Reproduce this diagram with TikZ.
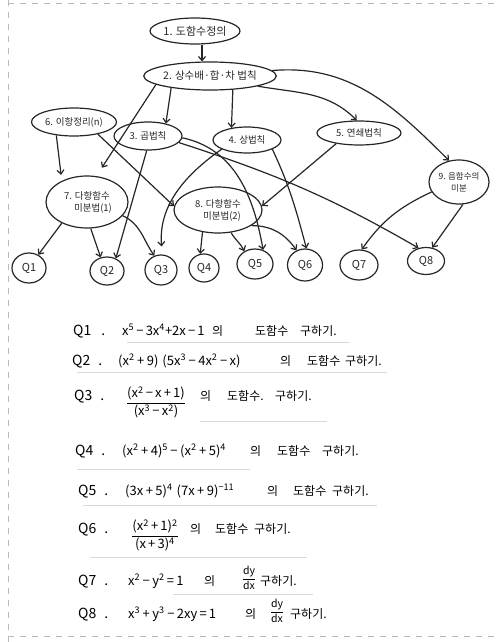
\documentclass[tikz,border=0pt]{standalone}
\usepackage{amsmath}
\usepackage{fontspec}
\setmainfont{Noto Sans CJK KR}
\usetikzlibrary{shapes.geometric,arrows.meta}
% exponents and spaced operators in the written formulas
\newcommand\pw[1]{\textsuperscript{#1}}
\newcommand\sop[1]{\hspace{2.5pt}#1\hspace{2.5pt}}
\begin{document}
\begin{tikzpicture}[x=1pt,y=1pt,
  pen/.style={line width=1.2pt, black!85},
  bub/.style={ellipse, draw, pen, inner sep=0pt, align=center,
    font=\fontsize{9.5}{12}\selectfont},
  qn/.style={ellipse, draw, pen, inner sep=0pt, font=\fontsize{11}{12}\selectfont},
  arr/.style={pen, -{Straight Barb[length=4pt,width=7pt]}},
  qlab/.style={anchor=base west, inner sep=0pt, font=\fontsize{14}{15}\selectfont},
  qexp/.style={anchor=base west, inner sep=0pt, font=\fontsize{13}{14}\selectfont},
  qfr/.style={anchor=base, inner sep=0pt, font=\fontsize{13}{14}\selectfont},
  qdd/.style={anchor=base, inner sep=0pt, font=\fontsize{10.5}{12}\selectfont},
  qkr/.style={anchor=base west, inner sep=0pt, font=\fontsize{12}{13}\selectfont},
  rule/.style={gray!30, line width=0.6pt},
  edge/.style={gray!55, line width=1pt, dash pattern=on 6pt off 6pt}
]
\useasboundingbox (0,0) rectangle (496,-642);

% page edges
\draw[edge] (8,0) -- (8,-642);
\draw[edge] (8,-4) -- (496,-4);
\draw[edge] (8,-636) -- (496,-636);

% topic bubbles
\node[bub, minimum width=90pt, minimum height=26pt, font=\fontsize{11}{12}\selectfont] (n1) at (195,-31) {1. 도함수정의};
\node[bub, minimum width=130pt, minimum height=28pt, font=\fontsize{10.5}{12}\selectfont] (n2) at (210,-76) {2. 상수배·합·차 법칙};
\node[bub, minimum width=85pt, minimum height=28pt] (n6) at (74,-122) {6. 이항정리(n)};
\node[bub, minimum width=68pt, minimum height=28pt] (n3) at (148,-136) {3. 곱법칙};
\node[bub, minimum width=68pt, minimum height=26pt] (n4) at (247,-140) {4. 상법칙};
\node[bub, minimum width=84pt, minimum height=24pt] (n5) at (359,-133) {5. 연쇄법칙};
\node[bub, minimum width=60pt, minimum height=44pt, font=\fontsize{8.5}{12}\selectfont] (n9) at (459,-182) {9. 음함수의\\미분};
\node[bub, minimum width=82pt, minimum height=52pt] (n7) at (87,-202) {7. 다항함수\\\hspace*{12pt}미분법(1)};
\node[bub, minimum width=88pt, minimum height=46pt] (n8) at (218,-210) {8. 다항함수\\\hspace*{8pt}미분법(2)};

% question bubbles
\node[qn, minimum width=34pt, minimum height=30pt] (q1) at (29,-268) {Q1};
\node[qn, minimum width=34pt, minimum height=28pt] (q2) at (107,-271) {Q2};
\node[qn, minimum width=32pt, minimum height=30pt] (q3) at (161,-270) {Q3};
\node[qn, minimum width=30pt, minimum height=28pt] (q4) at (204,-268) {Q4};
\node[qn, minimum width=36pt, minimum height=30pt] (q5) at (255,-264) {Q5};
\node[qn, minimum width=35pt, minimum height=32pt] (q6) at (305,-265) {Q6};
\node[qn, minimum width=38pt, minimum height=30pt] (q7) at (359,-265) {Q7};
\node[qn, minimum width=37pt, minimum height=27pt] (q8) at (426,-261) {Q8};

% links between topics
\draw[arr] ([xshift=7pt]n1.south) -- ([xshift=-8pt]n2.north);
\draw[arr, shorten >=10pt] (n2.189) -- (n7.70);
\draw[arr] (n2.197) -- (n3.35);
\draw[arr] (n2.-31) -- (n4.142);
\draw[arr] (n2.-12) to[out=-10, in=135] (n5.100);
\draw[arr] (n2.5) to[out=5, in=135] (n9.115);
\draw[arr, shorten >=6pt] (n6.217) -- (n7.140);
\draw[arr] (n6.-27) -- (n8.175);
\draw[arr] (n5.205) -- (n8.5);

% links to questions
\draw[arr] (n3.265) -- (q2.55);
\draw[arr] (n3.-3) to[out=-12, in=100] (q5.60);
\draw[arr] (n3.-12) to[out=-18, in=150] (q8.120);
\draw[arr, shorten >=8pt] (n4.200) to[out=215, in=95] (q3.85);
\draw[arr] (n4.-20) to[out=-65, in=105] (q6.85);
\draw[arr] (n7.220) -- (q1.55);
\draw[arr] (n7.-82) -- (q2.115);
\draw[arr] (n7.-21) to[out=-25, in=125] (q3.115);
\draw[arr] (n8.235) -- (q4.105);
\draw[arr] (n8.-60) to[out=-60, in=115] (q5.130);
\draw[arr] (n8.-25) to[out=0, in=125] (q6.120);
\draw[arr] (n9.200) to[out=205, in=55] (q7.80);
\draw[arr] (n9.-80) -- (q8.65);

% faint ruling under the exercises
\draw[rule] (127,-342) -- (350,-342);
\draw[rule] (77,-372) -- (387,-372);
\draw[rule] (200,-421) -- (327,-421);
\draw[rule] (77,-469) -- (250,-469);
\draw[rule] (83,-505) -- (377,-505);
\draw[rule] (90,-557) -- (307,-557);
\draw[rule] (173,-594) -- (313,-594);

% exercises
\node[qlab] (l1) at (73,-335) {Q1\hspace{10pt}.};
\node[qexp] (e1) at (122,-335) {x\pw{5}\,−\,3x\pw{4}+2x\,−\,1};
\node[qkr] (a1) at (212,-335) {의};
\node[qkr] (b1) at (255,-335) {도함수};
\node[qkr] (c1) at (300,-335) {구하기.};

\node[qlab] (l2) at (72,-365) {Q2\hspace{8pt}.};
\node[qexp] (e2) at (118,-365) {(x\pw{2}\sop{+}9)\hspace{4pt}(5x\pw{3}\sop{−}4x\pw{2}\sop{−}x)};
\node[qkr] (a2) at (280,-365) {의};
\node[qkr] (b2) at (307,-365) {도함수};
\node[qkr] (c2) at (345,-365) {구하기.};

\node[qlab] (l3) at (74,-400) {Q3\hspace{8pt}.};
\node[qfr] (e3) at (156,-406) {$\dfrac{\text{(x\pw{2}\,−\,x\,+\,1)}}{\text{(x\pw{3}\,−\,x\pw{2})}}$};
\node[qkr] (a3) at (200,-400) {의};
\node[qkr] (b3) at (227,-400) {도함수.};
\node[qkr] (c3) at (275,-400) {구하기.};

\node[qlab] (l4) at (75,-455) {Q4\hspace{8pt}.};
\node[qexp] (e4) at (122,-455) {(x\pw{2}\sop{+}4)\pw{5}\sop{−}(x\pw{2}\sop{+}5)\pw{4}};
\node[qkr] (a4) at (250,-455) {의};
\node[qkr] (b4) at (277,-455) {도함수};
\node[qkr] (c4) at (322,-455) {구하기.};

\node[qlab] (l5) at (78,-495) {Q5\hspace{8pt}.};
\node[qexp] (e5) at (125,-495) {(3x\sop{+}5)\pw{4}\hspace{4pt}(7x\sop{+}9)\pw{−11}};
\node[qkr] (a5) at (267,-495) {의};
\node[qkr] (b5) at (293,-495) {도함수};
\node[qkr] (c5) at (332,-495) {구하기.};

\node[qlab] (l6) at (78,-533) {Q6\hspace{8pt}.};
\node[qfr] (e6) at (155,-539) {$\dfrac{\text{(x\pw{2}\,+\,1)\pw{2}}}{\text{(x\,+\,3)\pw{4}}}$};
\node[qkr] (a6) at (190,-533) {의};
\node[qkr] (b6) at (215,-533) {도함수};
\node[qkr] (c6) at (254,-533) {구하기.};

\node[qlab] (l7) at (78,-585) {Q7\hspace{8pt}.};
\node[qexp] (e7) at (128,-585) {x\pw{2}\sop{−}y\pw{2}\,=\,1};
\node[qkr] (a7) at (204,-585) {의};
\node[qdd] (d7) at (249,-582) {$\dfrac{\text{dy}}{\text{dx}}$};
\node[qkr] (c7) at (260,-585) {구하기.};

\node[qlab] (l8) at (78,-618) {Q8\hspace{8pt}.};
\node[qexp] (e8) at (128,-618) {x\pw{3}\sop{+}y\pw{3}\sop{−}2xy\,=\,1};
\node[qkr] (a8) at (245,-618) {의};
\node[qdd] (d8) at (277,-615) {$\dfrac{\text{dy}}{\text{dx}}$};
\node[qkr] (c8) at (290,-618) {구하기.};
\end{tikzpicture}
\end{document}
